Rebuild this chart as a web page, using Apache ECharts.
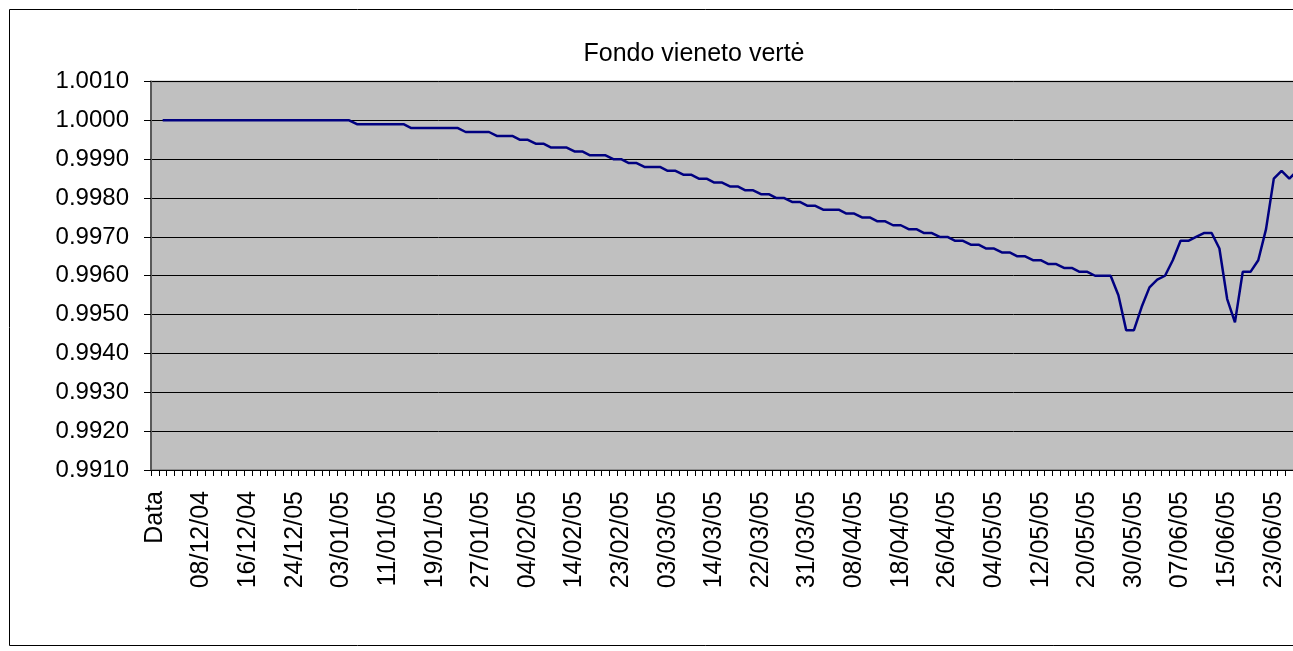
<!DOCTYPE html>
<html>
<head>
<meta charset="utf-8">
<script src="https://cdn.jsdelivr.net/npm/echarts@6/dist/echarts.min.js"></script>
<style>
html,body{margin:0;padding:0;background:#fff;overflow:hidden;width:1293px;height:651px;}
#chart{width:1400px;height:651px;}
</style>
</head>
<body>
<div id="chart"></div>
<script>
const titleText = "Fondo vieneto vertė";
const categories = [
"Data","01/12/04","02/12/04","03/12/04","06/12/04","07/12/04","08/12/04","09/12/04","10/12/04","13/12/04",
"14/12/04","15/12/04","16/12/04","17/12/04","20/12/04","21/12/04","22/12/04","23/12/04","24/12/05","27/12/04",
"28/12/04","29/12/04","30/12/04","31/12/04","03/01/05","04/01/05","05/01/05","06/01/05","07/01/05","10/01/05",
"11/01/05","12/01/05","13/01/05","14/01/05","17/01/05","18/01/05","19/01/05","20/01/05","21/01/05","24/01/05",
"25/01/05","26/01/05","27/01/05","28/01/05","31/01/05","01/02/05","02/02/05","03/02/05","04/02/05","07/02/05",
"08/02/05","09/02/05","10/02/05","11/02/05","14/02/05","15/02/05","17/02/05","18/02/05","21/02/05","22/02/05",
"23/02/05","24/02/05","25/02/05","28/02/05","01/03/05","02/03/05","03/03/05","04/03/05","07/03/05","08/03/05",
"09/03/05","10/03/05","14/03/05","15/03/05","16/03/05","17/03/05","18/03/05","21/03/05","22/03/05","23/03/05",
"24/03/05","25/03/05","29/03/05","30/03/05","31/03/05","01/04/05","04/04/05","05/04/05","06/04/05","07/04/05",
"08/04/05","11/04/05","12/04/05","13/04/05","14/04/05","15/04/05","18/04/05","19/04/05","20/04/05","21/04/05",
"22/04/05","25/04/05","26/04/05","27/04/05","28/04/05","29/04/05","02/05/05","03/05/05","04/05/05","05/05/05",
"06/05/05","09/05/05","10/05/05","11/05/05","12/05/05","13/05/05","16/05/05","17/05/05","18/05/05","19/05/05",
"20/05/05","23/05/05","24/05/05","25/05/05","26/05/05","27/05/05","30/05/05","31/05/05","01/06/05","02/06/05",
"03/06/05","06/06/05","07/06/05","08/06/05","09/06/05","10/06/05","13/06/05","14/06/05","15/06/05","16/06/05",
"17/06/05","20/06/05","21/06/05","22/06/05","23/06/05","27/06/05","28/06/05","29/06/05"
];
const values = [
null,1.0000,1.0000,1.0000,1.0000,1.0000,1.0000,1.0000,1.0000,1.0000,
1.0000,1.0000,1.0000,1.0000,1.0000,1.0000,1.0000,1.0000,1.0000,1.0000,
1.0000,1.0000,1.0000,1.0000,1.0000,1.0000,0.9999,0.9999,0.9999,0.9999,
0.9999,0.9999,0.9999,0.9998,0.9998,0.9998,0.9998,0.9998,0.9998,0.9998,
0.9997,0.9997,0.9997,0.9997,0.9996,0.9996,0.9996,0.9995,0.9995,0.9994,
0.9994,0.9993,0.9993,0.9993,0.9992,0.9992,0.9991,0.9991,0.9991,0.9990,
0.9990,0.9989,0.9989,0.9988,0.9988,0.9988,0.9987,0.9987,0.9986,0.9986,
0.9985,0.9985,0.9984,0.9984,0.9983,0.9983,0.9982,0.9982,0.9981,0.9981,
0.9980,0.9980,0.9979,0.9979,0.9978,0.9978,0.9977,0.9977,0.9977,0.9976,
0.9976,0.9975,0.9975,0.9974,0.9974,0.9973,0.9973,0.9972,0.9972,0.9971,
0.9971,0.9970,0.9970,0.9969,0.9969,0.9968,0.9968,0.9967,0.9967,0.9966,
0.9966,0.9965,0.9965,0.9964,0.9964,0.9963,0.9963,0.9962,0.9962,0.9961,
0.9961,0.9960,0.9960,0.9960,0.9955,0.9946,0.9946,0.9952,0.9957,0.9959,
0.9960,0.9964,0.9969,0.9969,0.9970,0.9971,0.9971,0.9967,0.9954,0.9948,
0.9961,0.9961,0.9964,0.9972,0.9985,0.9987,0.9985,0.9987
];
const yMin = 0.9910, yMax = 1.0010, yStep = 0.0010;

const FONT = "'Liberation Sans', Arial, sans-serif";
const chart = echarts.init(document.getElementById('chart'), null, {renderer:'canvas', width:1400, height:651});
chart.setOption({
  animation:false,
  backgroundColor:'#ffffff',
  title:{
    text:titleText, left:689, top:37, textAlign:'center',
    textStyle:{fontFamily:FONT, fontSize:25, fontWeight:'normal', color:'#000'}
  },
  graphic:[{
    type:'rect', silent:true, z:-10,
    shape:{x:9.5, y:9.5, width:1420, height:636},
    style:{fill:'none', stroke:'#000', lineWidth:1}
  }],
  grid:{
    left:151, top:81.5, bottom:181, right:99,
    show:true, backgroundColor:'#c0c0c0', borderColor:'#808080', borderWidth:1.5,
    containLabel:false
  },
  xAxis:{
    type:'category', data:categories, boundaryGap:true,
    axisLine:{show:true, lineStyle:{color:'#000', width:1}},
    axisTick:{show:true, interval:0, length:6, inside:false, lineStyle:{color:'#000', width:1}},
    axisLabel:{interval:5, rotate:90, margin:21, fontFamily:FONT, fontSize:25, color:'#000'},
    splitLine:{show:false}
  },
  yAxis:{
    type:'value', min:yMin, max:yMax, interval:yStep,
    axisLine:{show:true, lineStyle:{color:'#595959', width:2}},
    axisTick:{show:true, length:7, lineStyle:{color:'#000', width:1}},
    axisLabel:{margin:22, fontFamily:FONT, fontSize:24, color:'#000',
      formatter:function(v){return v.toFixed(4);}},
    splitLine:{show:true, lineStyle:{color:'#000', width:1}}
  },
  series:[{
    type:'line', data:values, showSymbol:false, symbol:'none',
    lineStyle:{color:'#000080', width:2.5}, connectNulls:false
  }]
});
</script>
</body>
</html>
